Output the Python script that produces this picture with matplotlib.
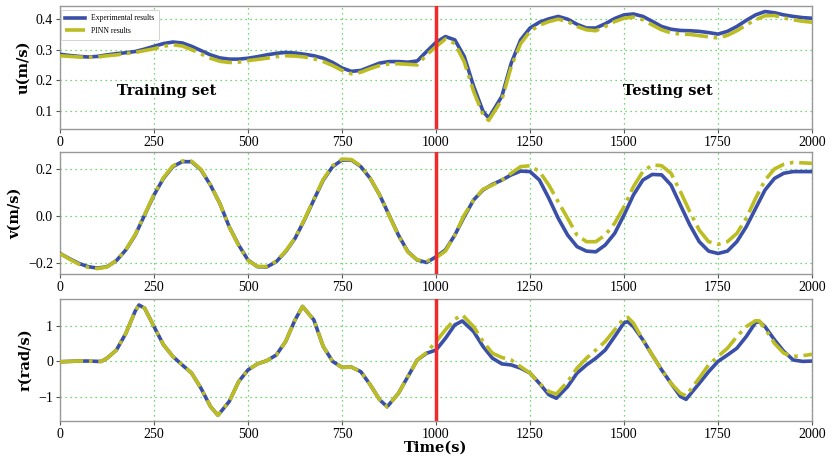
import numpy as np
import matplotlib
matplotlib.use("Agg")
import matplotlib.pyplot as plt

# ============================================================
# DATA
# ============================================================

t_u = [0, 25, 50, 75, 100, 125, 150, 175, 200, 225, 250, 275, 300, 325, 350, 375, 400, 425, 450, 475,
       500, 525, 550, 575, 600, 625, 650, 675, 700, 725, 750, 775, 800, 825, 850, 875, 900, 925, 950, 975,
       1000, 1025, 1050, 1075, 1100, 1125, 1140, 1175, 1200, 1225, 1250, 1275, 1300, 1325, 1350, 1375,
       1400, 1425, 1450, 1475, 1500, 1525, 1550, 1575, 1600, 1625, 1650, 1675, 1700, 1725, 1750, 1775,
       1800, 1825, 1850, 1875, 1900, 1925, 1950, 1975, 2000]

u_exp = [0.285, 0.281, 0.278, 0.276, 0.278, 0.283, 0.287, 0.290, 0.294, 0.302, 0.311, 0.320, 0.325, 0.322,
         0.311, 0.297, 0.283, 0.273, 0.269, 0.269, 0.272, 0.277, 0.283, 0.288, 0.291, 0.289, 0.285, 0.280,
         0.272, 0.258, 0.240, 0.229, 0.232, 0.244, 0.256, 0.261, 0.261, 0.259, 0.263, 0.294, 0.324, 0.343,
         0.332, 0.278, 0.180, 0.098, 0.076, 0.147, 0.256, 0.332, 0.371, 0.390, 0.401, 0.409, 0.400, 0.383,
         0.371, 0.371, 0.385, 0.402, 0.414, 0.417, 0.409, 0.393, 0.376, 0.367, 0.363, 0.362, 0.360, 0.356,
         0.351, 0.360, 0.376, 0.396, 0.414, 0.425, 0.421, 0.414, 0.409, 0.405, 0.403]

u_pinn = [0.280, 0.278, 0.276, 0.275, 0.276, 0.280, 0.283, 0.287, 0.291, 0.297, 0.303, 0.311, 0.316, 0.312,
          0.300, 0.286, 0.272, 0.262, 0.258, 0.259, 0.264, 0.268, 0.272, 0.277, 0.280, 0.279, 0.276, 0.270,
          0.261, 0.248, 0.232, 0.221, 0.226, 0.238, 0.248, 0.253, 0.254, 0.252, 0.250, 0.283, 0.310, 0.335,
          0.320, 0.260, 0.163, 0.087, 0.068, 0.136, 0.245, 0.320, 0.360, 0.380, 0.392, 0.400, 0.392, 0.376,
          0.365, 0.362, 0.376, 0.392, 0.403, 0.407, 0.398, 0.381, 0.365, 0.355, 0.351, 0.350, 0.346, 0.342,
          0.338, 0.347, 0.362, 0.381, 0.398, 0.411, 0.412, 0.404, 0.398, 0.393, 0.390]

t_v = list(range(0, 2001, 25))

v_exp = [-0.158, -0.180, -0.200, -0.214, -0.220, -0.214, -0.188, -0.143, -0.080, 0.005, 0.090, 0.160,
         0.210, 0.231, 0.231, 0.196, 0.132, 0.054, -0.045, -0.122, -0.186, -0.214, -0.215, -0.193, -0.150,
         -0.094, -0.016, 0.069, 0.153, 0.210, 0.238, 0.238, 0.210, 0.160, 0.090, 0.005, -0.080, -0.150,
         -0.186, -0.196, -0.172, -0.143, -0.080, -0.002, 0.069, 0.111, 0.135, 0.153, 0.175, 0.191, 0.189,
         0.153, 0.076, -0.009, -0.080, -0.129, -0.148, -0.151, -0.122, -0.073, 0.005, 0.090, 0.153, 0.177,
         0.175, 0.132, 0.047, -0.037, -0.108, -0.148, -0.158, -0.148, -0.108, -0.045, 0.033, 0.111, 0.160,
         0.182, 0.189, 0.189, 0.189]

v_pinn = [-0.158, -0.182, -0.203, -0.217, -0.222, -0.215, -0.188, -0.142, -0.078, 0.007, 0.093, 0.163,
          0.213, 0.234, 0.233, 0.198, 0.133, 0.054, -0.046, -0.124, -0.188, -0.213, -0.213, -0.191, -0.148,
          -0.092, -0.014, 0.072, 0.156, 0.214, 0.242, 0.240, 0.212, 0.161, 0.090, 0.004, -0.082, -0.152,
          -0.185, -0.190, -0.176, -0.148, -0.080, 0.005, 0.069, 0.114, 0.132, 0.153, 0.182, 0.210, 0.214,
          0.189, 0.132, 0.061, -0.009, -0.080, -0.108, -0.108, -0.080, -0.030, 0.040, 0.125, 0.189, 0.217,
          0.214, 0.182, 0.104, 0.019, -0.059, -0.108, -0.119, -0.108, -0.073, -0.009, 0.076, 0.153, 0.200,
          0.220, 0.228, 0.226, 0.224]

t_r = [0, 25, 50, 75, 100, 110, 125, 150, 175, 200, 210, 225, 250, 275, 300, 325, 350, 375, 400, 420,
       450, 475, 500, 525, 550, 575, 600, 625, 645, 675, 700, 725, 750, 775, 800, 825, 850, 870, 900, 925,
       950, 975, 1000, 1025, 1050, 1070, 1100, 1125, 1150, 1175, 1200, 1225, 1250, 1275, 1300, 1320, 1350,
       1375, 1400, 1425, 1450, 1475, 1500, 1510, 1525, 1550, 1575, 1600, 1625, 1650, 1665, 1700, 1725,
       1750, 1775, 1800, 1825, 1850, 1860, 1875, 1900, 1925, 1950, 1975, 2000]

r_exp = [-0.01, 0.0, 0.01, 0.01, 0.0, 0.0, 0.09, 0.32, 0.79, 1.42, 1.59, 1.50, 0.98, 0.47, 0.14, -0.10,
         -0.33, -0.76, -1.27, -1.52, -1.13, -0.57, -0.24, -0.07, 0.02, 0.18, 0.56, 1.17, 1.55, 1.17, 0.42,
         0.00, -0.17, -0.16, -0.29, -0.66, -1.08, -1.28, -0.90, -0.43, 0.04, 0.23, 0.32, 0.65, 1.03, 1.14,
         0.84, 0.42, 0.09, -0.07, -0.10, -0.19, -0.33, -0.62, -0.94, -1.04, -0.71, -0.33, -0.10, 0.09, 0.32,
         0.70, 1.09, 1.12, 0.98, 0.61, 0.18, -0.24, -0.62, -0.99, -1.07, -0.62, -0.29, 0.00, 0.18, 0.37,
         0.70, 1.10, 1.12, 0.98, 0.61, 0.28, 0.04, 0.00, 0.01]

r_pinn = [-0.01, 0.0, 0.01, 0.01, 0.0, 0.0, 0.09, 0.32, 0.79, 1.42, 1.59, 1.50, 0.98, 0.47, 0.14, -0.10,
          -0.33, -0.76, -1.27, -1.52, -1.13, -0.57, -0.24, -0.07, 0.02, 0.18, 0.56, 1.17, 1.55, 1.17, 0.42,
          0.00, -0.17, -0.16, -0.29, -0.66, -1.08, -1.28, -0.90, -0.43, 0.04, 0.25, 0.56, 0.89, 1.19, 1.31,
          0.98, 0.56, 0.23, 0.11, 0.04, -0.15, -0.33, -0.62, -0.85, -0.92, -0.57, -0.19, 0.09, 0.32, 0.56,
          0.89, 1.22, 1.24, 1.08, 0.61, 0.18, -0.24, -0.62, -0.90, -0.97, -0.47, -0.10, 0.14, 0.37, 0.70,
          0.98, 1.15, 1.14, 0.93, 0.51, 0.23, 0.14, 0.16, 0.20]

split_time = 1000
x_ticks = [0, 250, 500, 750, 1000, 1250, 1500, 1750, 2000]
y_labels = ["u(m/s)", "v(m/s)", "r(rad/s)"]

# ============================================================
# PLOT
# ============================================================

blue = "#3a4fa8"
olive = "#bcbd22"
tick_font = "Liberation Serif"
label_font = "DejaVu Serif"

fig = plt.figure(figsize=(8.35, 4.57), dpi=100)
left, width = 0.0719, 0.9006
ax_u = fig.add_axes([left, 0.7177, width, 0.2691])
ax_v = fig.add_axes([left, 0.4004, width, 0.2670])
ax_r = fig.add_axes([left, 0.0788, width, 0.2670])

panels = [
    (ax_u, t_u, u_exp, u_pinn, (0.04, 0.443), [0.1, 0.2, 0.3, 0.4], ["0.1", "0.2", "0.3", "0.4"]),
    (ax_v, t_v, v_exp, v_pinn, (-0.245, 0.272), [-0.2, 0.0, 0.2], ["\u22120.2", "0.0", "0.2"]),
    (ax_r, t_r, r_exp, r_pinn, (-1.68, 1.76), [-1, 0, 1], ["\u22121", "0", "1"]),
]

for i, (ax, t, y_exp, y_pinn, ylim, yt, ytl) in enumerate(panels):
    ax.plot(t, y_exp, color=blue, lw=2.6, label="Experimental results", zorder=3)
    ax.plot(t, y_pinn, color=olive, lw=2.6, ls="-.", label="PINN results", zorder=4)
    ax.axvline(split_time, color="#f02a2a", lw=2.5, zorder=5)
    ax.set_xlim(0, 2000)
    ax.set_ylim(*ylim)
    ax.set_xticks(x_ticks)
    ax.set_xticklabels([str(v) for v in x_ticks], fontfamily=tick_font, fontsize=10)
    ax.set_yticks(yt)
    ax.set_yticklabels(ytl, fontfamily=tick_font, fontsize=10)
    ax.grid(True, color="#44cc44", ls=(0, (1, 3)), lw=0.9)
    ax.tick_params(length=3, width=0.8, color="#555555", pad=2)
    for sp in ax.spines.values():
        sp.set_color("#999999")
        sp.set_linewidth(1.0)
    ax.set_ylabel(y_labels[i], fontfamily=label_font, fontweight="bold", fontsize=10.5, labelpad=4)

ax_u.text(0.076, 0.31, "Training set", transform=ax_u.transAxes,
          fontfamily=label_font, fontweight="bold", fontsize=10.5, va="center", ha="left")
ax_u.text(0.749, 0.31, "Testing set", transform=ax_u.transAxes,
          fontfamily=label_font, fontweight="bold", fontsize=10.5, va="center", ha="left")

leg = ax_u.legend(loc="upper left", prop={"family": tick_font, "size": 5.5},
                  handlelength=2.6, borderpad=0.6, labelspacing=0.6, fancybox=True,
                  framealpha=1.0, bbox_to_anchor=(-0.004, 1.0))
leg.get_frame().set_linewidth(0.6)

ax_r.set_xlabel("Time(s)", fontfamily=label_font, fontweight="bold", fontsize=10.5, labelpad=0)

fig.savefig("out.png", dpi=100)
